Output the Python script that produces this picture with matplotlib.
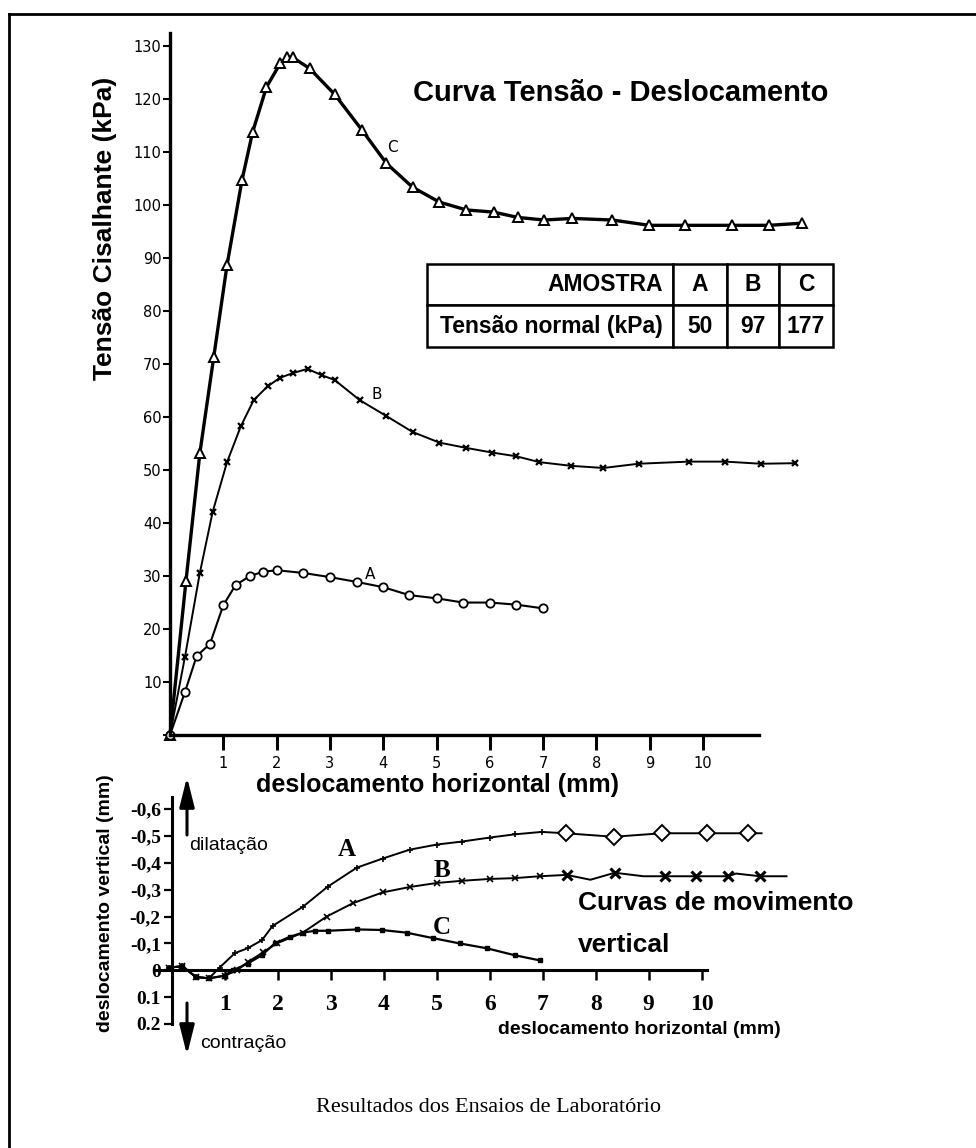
import matplotlib.pyplot as plt
from matplotlib.patches import FancyArrowPatch

# ---- curva tensao - deslocamento (kPa vs mm) ----
c_x = [0, 0.3, 0.56, 0.82, 1.07, 1.35, 1.55, 1.81, 2.07, 2.2, 2.3, 2.62, 3.09, 3.6, 4.06,
       4.55, 5.05, 5.56, 6.07, 6.52, 7.02, 7.55, 8.3, 8.99, 9.66, 10.54, 11.24, 11.85]
c_y = [0, 29.1, 53.2, 71.3, 88.7, 104.7, 113.8, 122.3, 126.8, 127.9, 127.9, 125.8, 120.9, 114.2, 107.9,
       103.4, 100.6, 99.1, 98.7, 97.7, 97.2, 97.5, 97.2, 96.2, 96.2, 96.2, 96.2, 96.6]

b_x = [0, 0.28, 0.56, 0.8, 1.07, 1.33, 1.57, 1.83, 2.06, 2.3, 2.58, 2.85, 3.09, 3.56, 4.06,
       4.55, 5.05, 5.55, 6.05, 6.5, 6.93, 7.53, 8.13, 8.79, 9.73, 10.42, 11.08, 11.72]
b_y = [0, 14.7, 30.6, 42.1, 51.5, 58.3, 63.2, 65.8, 67.4, 68.3, 69.1, 67.9, 67.0, 63.2, 60.2,
       57.2, 55.2, 54.2, 53.3, 52.6, 51.5, 50.8, 50.4, 51.2, 51.6, 51.6, 51.2, 51.3]

a_x = [0, 0.28, 0.5, 0.75, 1.0, 1.23, 1.5, 1.74, 2.0, 2.49, 3.0, 3.5, 4.0, 4.49, 5.0, 5.5, 6.0, 6.5, 7.0]
a_y = [0, 8.1, 14.9, 17.2, 24.5, 28.3, 30.0, 30.8, 31.1, 30.6, 29.8, 28.9, 27.9, 26.4, 25.8, 25.0, 25.0, 24.6, 23.9]

# ---- curvas de movimento vertical (mm vs mm) ----
va_x = [-0.05, 0.2, 0.45, 0.7, 0.9, 1.19, 1.43, 1.7, 1.9, 2.47, 2.94, 3.49, 3.98, 4.49, 5.0, 5.47,
        6.0, 6.47, 6.98, 7.43, 8.34, 9.25, 10.1, 10.87, 11.13]
va_y = [-0.01, -0.015, 0.025, 0.03, -0.01, -0.064, -0.082, -0.112, -0.165, -0.236, -0.311, -0.382,
        -0.416, -0.449, -0.468, -0.479, -0.494, -0.506, -0.515, -0.51, -0.497, -0.51, -0.51, -0.51, -0.51]

vb_x = [-0.05, 0.2, 0.45, 0.7, 1.0, 1.23, 1.43, 1.72, 1.98, 2.47, 2.92, 3.42, 3.98, 4.49, 5.0, 5.47,
        6.0, 6.47, 6.94, 7.45, 7.9, 8.36, 8.9, 9.3, 9.9, 10.5, 10.65, 11.1, 11.6]
vb_y = [-0.01, -0.015, 0.025, 0.03, 0.02, 0.0, -0.03, -0.067, -0.1, -0.14, -0.2, -0.25, -0.29, -0.31,
        -0.325, -0.333, -0.34, -0.343, -0.35, -0.355, -0.337, -0.363, -0.35, -0.35, -0.35, -0.35, -0.36,
        -0.35, -0.35]

vc_x = [-0.05, 0.2, 0.45, 0.7, 1.0, 1.15, 1.43, 1.7, 1.94, 2.23, 2.47, 2.7, 2.94, 3.49, 3.96, 4.43,
        4.92, 5.43, 5.94, 6.47, 6.94]
vc_y = [-0.01, -0.015, 0.025, 0.03, 0.02, 0.0, -0.025, -0.056, -0.1, -0.125, -0.14, -0.147, -0.147,
        -0.152, -0.15, -0.14, -0.12, -0.1, -0.082, -0.056, -0.037]

amostras = ["A", "B", "C"]
tensao_normal = ["50", "97", "177"]
v_ticks = [-0.6, -0.5, -0.4, -0.3, -0.2, -0.1, 0, 0.1, 0.2]
v_labels = ["-0,6", "-0,5", "-0,4", "-0,3", "-0,2", "-0,1", "0", "0.1", "0.2"]

W, H = 976, 1148
SANS = "Liberation Sans"
SERIF = "Liberation Serif"


def fx(px):
    return px / W


def fy(py):
    return 1 - py / H


fig = plt.figure(figsize=(W / 100, H / 100), dpi=100)

# frame around the picture (only left and top visible)
fig.add_artist(plt.Line2D([fx(9), fx(9)], [0, fy(14)], color="k", lw=2))
fig.add_artist(plt.Line2D([fx(9), 1], [fy(14), fy(14)], color="k", lw=2))

# ---------------- top chart ----------------
ax = fig.add_axes([fx(170), fy(735), (759 - 170) / W, (735 - 33) / H])
ax.set_xlim(0, 11.05)
ax.set_ylim(0, 132.5)
for s in ["top", "right"]:
    ax.spines[s].set_visible(False)
for s in ["left", "bottom"]:
    ax.spines[s].set_linewidth(2.4)
ax.set_yticks(range(0, 131, 10))
ax.set_yticklabels([""] + [str(v) for v in range(10, 131, 10)])
ax.set_xticks(range(1, 11))
ax.tick_params(axis="y", direction="out", length=5, width=1.5, pad=1, labelsize=10.5)
ax.tick_params(axis="x", direction="out", length=11, width=2.2, pad=4, labelsize=10.5)

ax.plot(c_x, c_y, color="k", lw=2.4, marker="^", ms=6.5, mfc="white", mec="k", mew=1.4, clip_on=False)
ax.plot(b_x, b_y, color="k", lw=1.4, marker="x", ms=5, mew=1.6, clip_on=False)
ax.plot(a_x, a_y, color="k", lw=1.5, marker="o", ms=6, mfc="white", mec="k", mew=1.3, clip_on=False)

ax.text(4.18, 110.8, "C", fontsize=11, ha="center", va="center")
ax.text(3.88, 64.2, "B", fontsize=11, ha="center", va="center")
ax.text(3.75, 30.2, "A", fontsize=11, ha="center", va="center")

fig.text(fx(413), fy(93), "Curva Tensão - Deslocamento", family=SANS, weight="bold",
         fontsize=21, va="center", ha="left")
fig.text(fx(105), fy(228), "Tensão Cisalhante (kPa)", family=SANS, weight="bold",
         fontsize=19, rotation=90, ha="center", va="center")
fig.text(fx(437), fy(785), "deslocamento horizontal (mm)", family=SANS, weight="bold",
         fontsize=18, ha="center", va="center")

# table
tax = fig.add_axes([fx(427), fy(347), (833 - 427) / W, (347 - 264) / H])
tax.axis("off")
tbl = tax.table(cellText=[["AMOSTRA"] + amostras, ["Tensão normal (kPa)"] + tensao_normal],
                colWidths=[246 / 406, 54 / 406, 52 / 406, 54 / 406], bbox=[0, 0, 1, 1],
                cellLoc="center")
tbl.auto_set_font_size(False)
tbl.set_fontsize(16.5)
for (r, c), cell in tbl.get_celld().items():
    cell.set_linewidth(1.8)
    cell.get_text().set_fontfamily(SANS)
    cell.get_text().set_fontweight("bold")
    if c == 0:
        cell.get_text().set_ha("right")
        cell.PAD = 0.04

# ---------------- bottom chart ----------------
bx = fig.add_axes([fx(156), fy(1024), (707 - 156) / W, (1024 - 797) / H])
bx.set_xlim(-0.3, 10.1)
bx.set_ylim(0.2, -0.645)
bx.spines["top"].set_visible(False)
bx.spines["right"].set_visible(False)
bx.spines["left"].set_position(("data", 0))
bx.spines["bottom"].set_position(("data", 0))
bx.spines["left"].set_linewidth(2.2)
bx.spines["bottom"].set_linewidth(2.2)
bx.set_yticks(v_ticks)
bx.set_yticklabels(v_labels, family=SERIF, weight="bold", fontsize=14)
bx.set_xticks(range(1, 11))
bx.set_xticklabels([str(v) for v in range(1, 11)], family=SERIF, weight="bold", fontsize=17)
bx.tick_params(axis="y", direction="out", length=6, width=1.6, pad=2)
bx.tick_params(axis="x", direction="out", length=7, width=1.8, pad=10)

bx.plot(va_x, va_y, color="k", lw=1.4, marker="+", ms=5, mew=1.2, markevery=list(range(0, 19)),
        clip_on=False)
bx.plot(va_x, va_y, color="k", ls="none", marker="D", ms=8, mfc="white", mec="k", mew=1.4,
        markevery=list(range(19, 24)), clip_on=False)
bx.plot(vb_x, vb_y, color="k", lw=1.4, marker="x", ms=4, mew=1.2, markevery=list(range(0, 19)),
        clip_on=False)
bx.plot(vb_x, vb_y, color="k", ls="none", marker="x", ms=7, mew=2.2,
        markevery=[19, 21, 23, 24, 25, 27], clip_on=False)
bx.plot(vc_x, vc_y, color="k", lw=1.6, marker="s", ms=3.5, clip_on=False)

bx.text(3.3, -0.448, "A", family=SERIF, weight="bold", fontsize=18, ha="center", va="center")
bx.text(5.1, -0.373, "B", family=SERIF, weight="bold", fontsize=18, ha="center", va="center")
bx.text(5.1, -0.16, "C", family=SERIF, weight="bold", fontsize=18, ha="center", va="center")

fig.text(fx(105), fy(903), "deslocamento vertical (mm)", family=SANS, weight="bold",
         fontsize=14, rotation=90, ha="center", va="center")
fig.text(fx(189), fy(845), "dilatação", family=SANS, fontsize=14, ha="left", va="center")
fig.text(fx(200), fy(1043), "contração", family=SANS, fontsize=14, ha="left", va="center")
fig.text(fx(578), fy(903), "Curvas de movimento", family=SANS, weight="bold", fontsize=19,
         ha="left", va="center")
fig.text(fx(578), fy(945), "vertical", family=SANS, weight="bold", fontsize=19,
         ha="left", va="center")
fig.text(fx(639), fy(1030), "deslocamento horizontal (mm)", family=SANS, weight="bold",
         fontsize=14, ha="center", va="center")

for start, end in [((187, 835), (187, 777)), ((187, 1003), (187, 1055))]:
    fig.add_artist(FancyArrowPatch((fx(start[0]), fy(start[1])), (fx(end[0]), fy(end[1])),
                                   transform=fig.transFigure,
                                   arrowstyle="-|>,head_length=1.0,head_width=0.25",
                                   mutation_scale=18, shrinkA=0, shrinkB=0,
                                   color="k", lw=2.2))

fig.text(fx(488), fy(1107), "Resultados dos Ensaios de Laboratório", family=SERIF,
         fontsize=16, ha="center", va="center")

fig.savefig("out.png", dpi=100)
